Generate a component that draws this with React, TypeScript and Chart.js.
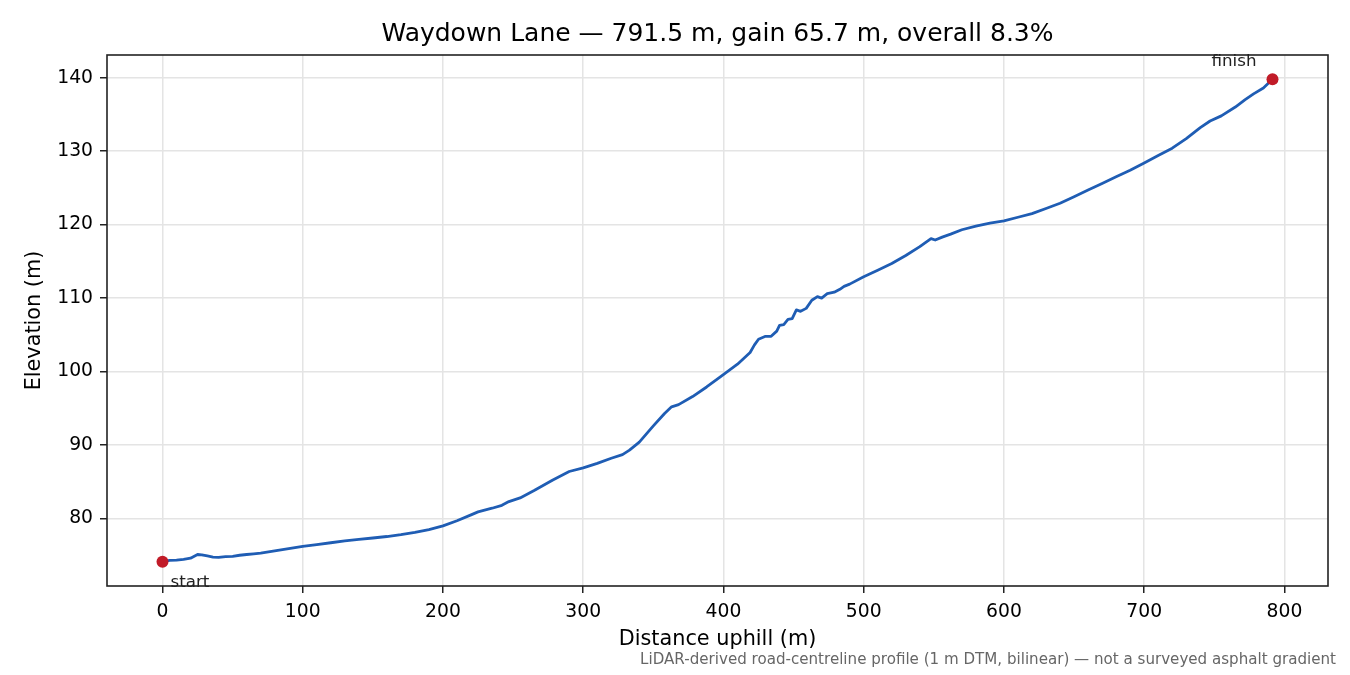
import { useEffect, useRef } from 'react'
import Chart from 'chart.js/auto'

const TITLE = 'Waydown Lane — 791.5 m, gain 65.7 m, overall 8.3%'
const FOOTNOTE = 'LiDAR-derived road-centreline profile (1 m DTM, bilinear) — not a surveyed asphalt gradient'

// distance along the lane (m) and elevation (m)
const distances = [
  0, 5, 10, 15, 20, 23, 25, 28, 32, 36, 40, 45, 50, 55, 60, 65, 70, 80, 90, 100,
  110, 120, 130, 140, 150, 160, 170, 180, 190, 200, 210, 220, 225, 235, 242, 247, 255, 265, 278, 290,
  300, 310, 320, 328, 333, 340, 350, 358, 363, 368, 378, 388, 398, 410, 419, 422, 425, 430, 434, 438,
  440, 443, 446, 449, 452, 455, 459, 463, 467, 470, 474, 479, 483, 486, 490, 500, 510, 520, 530, 540,
  548, 551, 556, 562, 570, 580, 590, 600, 610, 620, 630, 640, 650, 660, 670, 680, 690, 700, 710, 720,
  730, 740, 747, 755, 765, 772, 778, 785, 791.5,
]
const elevations = [
  74.1, 74.3, 74.35, 74.45, 74.6, 74.9, 75.1, 75.05, 74.9, 74.75, 74.7, 74.8, 74.85, 75.0, 75.1, 75.2, 75.3, 75.6, 75.9, 76.2,
  76.45, 76.7, 76.95, 77.15, 77.35, 77.55, 77.8, 78.1, 78.5, 79.0, 79.7, 80.5, 80.9, 81.4, 81.8, 82.3, 82.8, 83.8, 85.2, 86.4,
  86.9, 87.5, 88.2, 88.7, 89.3, 90.4, 92.6, 94.3, 95.2, 95.5, 96.6, 97.9, 99.3, 101.0, 102.6, 103.6, 104.4, 104.8, 104.8, 105.5,
  106.3, 106.4, 107.1, 107.2, 108.4, 108.2, 108.6, 109.7, 110.2, 110.0, 110.6, 110.8, 111.2, 111.6, 111.9, 112.9, 113.8, 114.7, 115.8, 117.0,
  118.1, 117.9, 118.3, 118.7, 119.3, 119.8, 120.2, 120.5, 121.0, 121.5, 122.2, 122.9, 123.8, 124.7, 125.6, 126.5, 127.4, 128.4, 129.4, 130.4,
  131.7, 133.2, 134.1, 134.8, 136.0, 137.0, 137.8, 138.6, 139.8,
]
const endpointLabels = ['start', 'finish']

const FONT = '"DejaVu Sans", sans-serif'

const decorPlugin = {
  id: 'profileDecor',
  afterDraw(chart: any) {
    const { ctx, chartArea: a, scales } = chart
    ctx.save()
    // full box around the axes
    ctx.strokeStyle = '#222'
    ctx.lineWidth = 1.6
    ctx.strokeRect(a.left, a.top, a.right - a.left, a.bottom - a.top)

    ctx.fillStyle = '#000'
    ctx.font = `25px ${FONT}`
    ctx.textAlign = 'center'
    ctx.textBaseline = 'middle'
    ctx.fillText(TITLE, (a.left + a.right) / 2, 34)

    // start / finish labels
    const x = scales.x
    const y = scales.y
    ctx.fillStyle = '#222'
    ctx.font = `16.7px ${FONT}`
    const sx = x.getPixelForValue(distances[0])
    const sy = y.getPixelForValue(elevations[0])
    ctx.textAlign = 'left'
    ctx.fillText(endpointLabels[0], sx + 8, sy + 21)
    const last = distances.length - 1
    const fx = x.getPixelForValue(distances[last])
    const fy = y.getPixelForValue(elevations[last])
    ctx.textAlign = 'right'
    ctx.fillText(endpointLabels[1], fx - 16, fy - 17)

    // footnote
    ctx.fillStyle = '#666'
    ctx.font = `15.1px ${FONT}`
    ctx.textAlign = 'right'
    ctx.fillText(FOOTNOTE, 1336, 660)
    ctx.restore()
  },
}

export default function App() {
  const canvasRef = useRef<HTMLCanvasElement>(null)
  const chartRef = useRef<Chart | null>(null)

  useEffect(() => {
    document.body.style.margin = '0'
    if (!canvasRef.current) return
    if (chartRef.current) chartRef.current.destroy()

    const profile = distances.map((d, i) => ({ x: d, y: elevations[i] }))
    const last = distances.length - 1
    const ends = [
      { x: distances[0], y: elevations[0] },
      { x: distances[last], y: elevations[last] },
    ]
    const span = distances[last] - distances[0]
    const rise = elevations[last] - elevations[0]

    chartRef.current = new Chart(canvasRef.current, {
      type: 'line',
      data: {
        datasets: [
          {
            label: 'endpoints',
            data: ends,
            showLine: false,
            pointRadius: 6,
            pointBackgroundColor: '#c11b28',
            pointBorderWidth: 0,
            order: 0,
          },
          {
            label: 'profile',
            data: profile,
            borderColor: '#1f5db4',
            borderWidth: 2.8,
            pointRadius: 0,
            tension: 0,
            borderJoinStyle: 'round',
            borderCapStyle: 'round',
            order: 1,
          },
        ],
      },
      options: {
        animation: false,
        responsive: true,
        maintainAspectRatio: false,
        devicePixelRatio: 1,
        layout: { padding: { left: 0, right: 22, top: 55, bottom: 0 } },
        plugins: {
          legend: { display: false },
          tooltip: { enabled: false },
          title: { display: false },
        },
        scales: {
          x: {
            type: 'linear',
            min: distances[0] - span * 0.05,
            max: distances[last] + span * 0.05,
            afterFit: (s: any) => { s.height = 89 },
            ticks: {
              stepSize: 100,
              includeBounds: false,
              color: '#000',
              padding: 8,
              font: { family: FONT, size: 18.75 },
              maxRotation: 0,
            },
            grid: { color: '#e4e4e4', lineWidth: 1.5, tickColor: '#222', tickLength: 7, tickWidth: 1.5 },
            border: { display: false },
            title: {
              display: true,
              text: 'Distance uphill (m)',
              color: '#000',
              font: { family: FONT, size: 20.8 },
              padding: { top: 0, bottom: 22.5 },
            },
          },
          y: {
            type: 'linear',
            min: elevations[0] - rise * 0.05,
            max: elevations[last] + rise * 0.05,
            afterFit: (s: any) => { s.width = 107 },
            ticks: {
              stepSize: 10,
              includeBounds: false,
              color: '#000',
              padding: 7,
              font: { family: FONT, size: 18.75 },
            },
            grid: { color: '#e4e4e4', lineWidth: 1.5, tickColor: '#222', tickLength: 7, tickWidth: 1.5 },
            border: { display: false },
            title: {
              display: true,
              text: 'Elevation (m)',
              color: '#000',
              font: { family: FONT, size: 20.8 },
              padding: { top: 22.5, bottom: 0 },
            },
          },
        },
      },
      plugins: [decorPlugin],
    })

    return () => {
      if (chartRef.current) {
        chartRef.current.destroy()
        chartRef.current = null
      }
    }
  }, [])

  return (
    <div style={{ position: 'relative', width: 1350, height: 675, background: '#fff' }}>
      <canvas ref={canvasRef} />
    </div>
  )
}
